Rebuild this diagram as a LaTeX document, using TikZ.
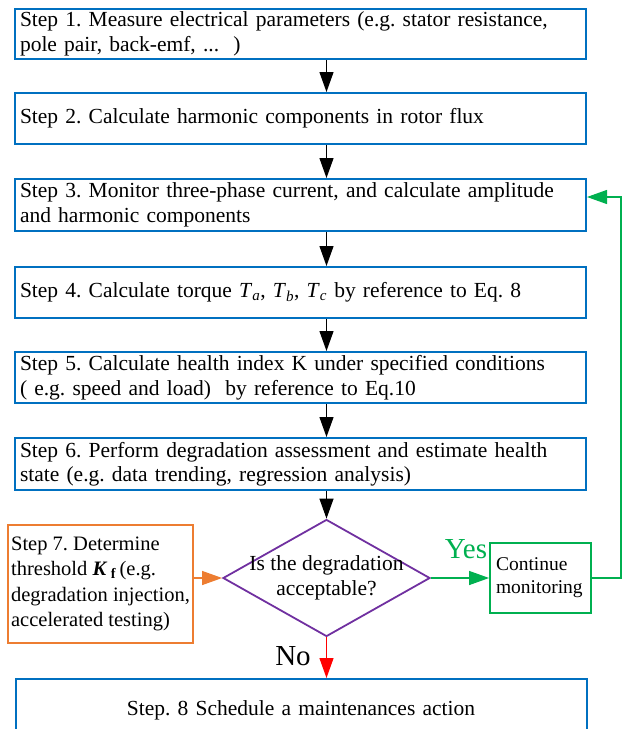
\documentclass[tikz,border=0pt]{standalone}
\usepackage{fontspec}
\setmainfont{Liberation Serif}
\usetikzlibrary{arrows.meta,positioning,shapes.geometric}
\frenchspacing

\definecolor{boxblue}{RGB}{0,112,192}
\definecolor{stepor}{RGB}{237,125,49}
\definecolor{decpurple}{RGB}{112,48,160}
\definecolor{okgreen}{RGB}{0,176,80}
\newcommand\steptext{\fontsize{21.5}{24.5}\selectfont}
\newcommand\Tq[1]{\textit{T}\textsubscript{\textit{#1}}}

\begin{document}
\begin{tikzpicture}[x=1pt,y=-1pt,
    stepbox/.style={draw=boxblue,line width=2pt,text width=561pt,minimum height=51pt,
      inner xsep=5pt,inner ysep=0pt,align=left,font=\steptext},
    flow/.style={-{Triangle[length=20pt,width=14pt]},line width=1.2pt},
    decision/.style={diamond,draw=decpurple,line width=1.8pt,minimum width=207pt,
      minimum height=117pt,inner sep=0pt}]
  \useasboundingbox (0,0) rectangle (628,729);
  \clip (0,0) rectangle (628,729);
  \node[stepbox,minimum height=50pt] (s1) at (300.5,34)
    {Step 1. Measure electrical parameters (e.g. stator resistance,\\pole pair, back-emf, ...\ \ )};
  \node[stepbox] (s2) at (300.5,118.5) {Step 2. Calculate harmonic components in rotor flux};
  \node[stepbox,minimum height=52pt] (s3) at (300.5,205)
    {Step 3. Monitor three-phase current, and calculate amplitude\\and harmonic components};
  \node[stepbox] (s4) at (300.5,292.5)
    {Step 4. Calculate torque \Tq{a}, \Tq{b}, \Tq{c} by reference to Eq. 8};
  \node[stepbox] (s5) at (300.5,377.5)
    {Step 5. Calculate health index K under specified conditions\\( e.g. speed and load)\ \ by reference to Eq.10};
  \node[stepbox,minimum height=52pt] (s6) at (300.5,464)
    {Step 6. Perform degradation assessment and estimate health\\state (e.g. data trending, regression analysis)};
  \node[decision] (dec) at (326.5,578) {};
  \node[font=\steptext,align=center] (dectext) at (dec) {Is the degradation\\acceptable?};
  \node[draw=stepor,line width=2pt,minimum width=185pt,minimum height=118pt,inner xsep=3pt,
    align=left,font=\fontsize{20.5}{25.5}\selectfont] (s7) at (100.5,584)
    {Step 7. Determine\\threshold \textbf{\textit{K}}\,\textsubscript{\textbf{f}}\,(e.g.\\degradation injection,\\accelerated testing)};
  \node[draw=okgreen,line width=1.8pt,text width=89pt,minimum height=70pt,inner xsep=6pt,
    align=left,font=\fontsize{19.5}{23}\selectfont] (cont) at (540.5,578) {Continue\\monitoring};
  \node[stepbox,minimum height=62pt,align=center] (s8) at (301,710)
    {Step. 8 Schedule a maintenances action};
  \node[text=okgreen,font=\fontsize{29}{29}\selectfont] (yes) at (466,549) {Yes};
  \node[font=\fontsize{29}{29}\selectfont] (no) at (293,656) {No};

  \draw[flow] (s1.south -| dec) -- (s2.north -| dec);
  \draw[flow] (s2.south -| dec) -- (s3.north -| dec);
  \draw[flow] (s3.south -| dec) -- (s4.north -| dec);
  \draw[flow] (s4.south -| dec) -- (s5.north -| dec);
  \draw[flow] (s5.south -| dec) -- (s6.north -| dec);
  \draw[flow] (s6.south -| dec) -- (dec.north);
  \draw[flow,stepor] (s7.east |- dec) -- (dec.west);
  \draw[flow,okgreen] (dec.east) -- (cont.west);
  \draw[flow,red] (dec.south) -- (s8.north -| dec);
  \draw[flow,okgreen] (cont.east) -- ++(29,0) |- ([yshift=8pt]s3.east);
\end{tikzpicture}
\end{document}
